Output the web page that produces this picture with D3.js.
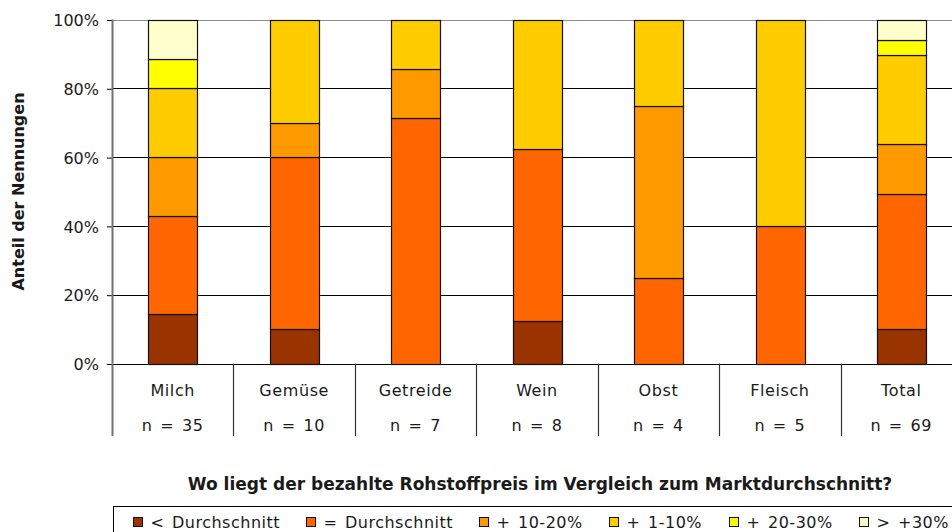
<!DOCTYPE html>
<html>
<head>
<meta charset="utf-8">
<script src="https://cdn.jsdelivr.net/npm/d3@7"></script>
<style>
  html, body { margin: 0; padding: 0; background: #fff; }
  svg { display: block; }
  text { font-family: "DejaVu Sans", Verdana, sans-serif; fill: #1a1a1a; }
</style>
</head>
<body>
<svg id="chart" width="952" height="532"></svg>
<script>
// Product groups and number of answers per group
const categories = ["Milch", "Gemüse", "Getreide", "Wein", "Obst", "Fleisch", "Total"];
const sampleLabels = ["n = 35", "n = 10", "n = 7", "n = 8", "n = 4", "n = 5", "n = 69"];

// Price classes, bottom to top of each stack
const seriesNames = ["< Durchschnitt", "= Durchschnitt", "+ 10-20%", "+ 1-10%", "+ 20-30%", "> +30%"];
const seriesColors = ["#993300", "#FF6600", "#FF9900", "#FFCC00", "#FFFF00", "#FFFFCC"];

// Share of answers in percent, one value per product group
const belowAvg   = [14.3, 10.0,  0.0, 12.5,  0.0,  0.0, 10.1];
const atAvg      = [28.6, 50.0, 71.4, 50.0, 25.0, 40.0, 39.1];
const plus10to20 = [17.1, 10.0, 14.3,  0.0, 50.0,  0.0, 14.5];
const plus1to10  = [20.0, 30.0, 14.3, 37.5, 25.0, 60.0, 26.1];
const plus20to30 = [ 8.6,  0.0,  0.0,  0.0,  0.0,  0.0,  4.3];
const plus30     = [11.4,  0.0,  0.0,  0.0,  0.0,  0.0,  5.8];

const yTicks = [0, 20, 40, 60, 80, 100];

const seriesValues = [belowAvg, atAvg, plus10to20, plus1to10, plus20to30, plus30];
const rows = categories.map((c, i) => {
  const r = { category: c };
  seriesNames.forEach((s, k) => { r[s] = seriesValues[k][i]; });
  return r;
});

const svg = d3.select("#chart");
const W = 952, H = 532;
const plot = { left: 112, right: 962, top: 19.5, bottom: 363.5 };

const x = d3.scaleBand()
  .domain(categories)
  .range([plot.left, plot.right])
  .paddingInner(0.6)
  .paddingOuter(0.3);
const step = x.step();

const y = d3.scaleLinear().domain([0, 100]).range([plot.bottom, plot.top]);

const stack = d3.stack().keys(seriesNames);
const stacked = stack(rows);

// horizontal gridlines across the plot area
svg.append("g")
  .selectAll("line")
  .data(yTicks)
  .join("line")
  .attr("x1", plot.left)
  .attr("x2", plot.right)
  .attr("y1", d => Math.round(y(d)) + 0.5)
  .attr("y2", d => Math.round(y(d)) + 0.5)
  .attr("stroke", d => d === 100 ? "#8c8c8c" : "#000")
  .attr("stroke-width", 1);

// value axis
const yAxis = d3.axisLeft(y)
  .tickValues(yTicks)
  .tickSize(5)
  .tickPadding(8)
  .tickFormat(d => d + "%");
const gy = svg.append("g")
  .attr("transform", `translate(${plot.left},0.5)`)
  .call(yAxis);
gy.select(".domain").remove();
gy.selectAll(".tick line").attr("stroke", "#000");
gy.selectAll(".tick text")
  .attr("font-size", 16)
  .attr("font-family", "DejaVu Sans, Verdana, sans-serif")
  .attr("fill", "#1a1a1a")
  .attr("dy", "0.36em");

// stacked bars
svg.append("g")
  .selectAll("g")
  .data(stacked)
  .join("g")
  .attr("fill", (d, i) => seriesColors[i])
  .selectAll("rect")
  .data(d => d.filter(p => p[1] - p[0] > 0))
  .join("rect")
  .attr("x", d => Math.round(x(d.data.category)) + 0.5)
  .attr("y", d => Math.round(y(d[1])) + 0.5)
  .attr("width", Math.round(x.bandwidth()))
  .attr("height", d => Math.round(y(d[0])) - Math.round(y(d[1])))
  .attr("stroke", "#111")
  .attr("stroke-width", 1.2);

// category axis: boxes between groups with name and sample size
const axisBottom = 436;
const boundaries = d3.range(categories.length + 1).map(i => plot.left + i * step);
svg.append("g")
  .selectAll("line")
  .data(boundaries)
  .join("line")
  .attr("x1", d => Math.round(d) + 0.5)
  .attr("x2", d => Math.round(d) + 0.5)
  .attr("y1", plot.bottom)
  .attr("y2", axisBottom)
  .attr("stroke", (d, i) => i === 0 ? "#707070" : "#333")
  .attr("stroke-width", (d, i) => i === 0 ? 2 : 1.2);

// left edge of the plot
svg.append("line")
  .attr("x1", plot.left + 0.5).attr("x2", plot.left + 0.5)
  .attr("y1", plot.top).attr("y2", plot.bottom)
  .attr("stroke", "#707070").attr("stroke-width", 2);

const center = c => x(c) + x.bandwidth() / 2;
const catG = svg.append("g").attr("text-anchor", "middle").attr("font-size", 16);
catG.selectAll("text.cat")
  .data(categories)
  .join("text")
  .attr("class", "cat")
  .attr("x", d => center(d))
  .attr("y", 396)
  .attr("letter-spacing", 0.6)
  .text(d => d);
catG.selectAll("text.n")
  .data(categories)
  .join("text")
  .attr("class", "n")
  .attr("x", d => center(d))
  .attr("y", 431)
  .attr("letter-spacing", 0.6)
  .attr("word-spacing", 2)
  .text((d, i) => sampleLabels[i]);

// axis titles
svg.append("text")
  .attr("transform", `translate(24,${(plot.top + plot.bottom) / 2}) rotate(-90)`)
  .attr("text-anchor", "middle")
  .attr("font-weight", "bold")
  .attr("font-size", 16)
  .attr("fill", "#000")
  .text("Anteil der Nennungen");

svg.append("text")
  .attr("x", 540)
  .attr("y", 490)
  .attr("text-anchor", "middle")
  .attr("font-family", "Liberation Sans, Arial, sans-serif")
  .attr("font-weight", "bold")
  .attr("font-size", 17)
  .attr("fill", "#000")
  .text("Wo liegt der bezahlte Rohstoffpreis im Vergleich zum Marktdurchschnitt?");

// legend box, running off the right and bottom edges
const legend = svg.append("g");
legend.append("rect")
  .attr("x", 113.5).attr("y", 506.5)
  .attr("width", 900).attr("height", 60)
  .attr("fill", "#fff").attr("stroke", "#000").attr("stroke-width", 1);

const legendStart = 133, legendEnd = 948, legendY = 522;
const items = legend.selectAll("g.item")
  .data(seriesNames)
  .join("g")
  .attr("class", "item");
items.append("rect")
  .attr("width", 9).attr("height", 9)
  .attr("y", legendY - 4.5)
  .attr("fill", (d, i) => seriesColors[i])
  .attr("stroke", "#111").attr("stroke-width", 1);
items.append("text")
  .attr("x", 17)
  .attr("y", legendY)
  .attr("dy", "0.36em")
  .attr("font-size", 16)
  .attr("letter-spacing", 0.5)
  .attr("word-spacing", 2)
  .text(d => d);

// spread the entries evenly between the first marker and the right end
const widths = [];
items.each(function () { widths.push(17 + this.querySelector("text").getComputedTextLength()); });
const gap = (legendEnd - legendStart - d3.sum(widths)) / (widths.length - 1);
let pos = legendStart;
items.each(function (d, i) {
  d3.select(this).attr("transform", `translate(${Math.round(pos) + 0.5},0)`);
  pos += widths[i] + gap;
});
</script>
</body>
</html>
